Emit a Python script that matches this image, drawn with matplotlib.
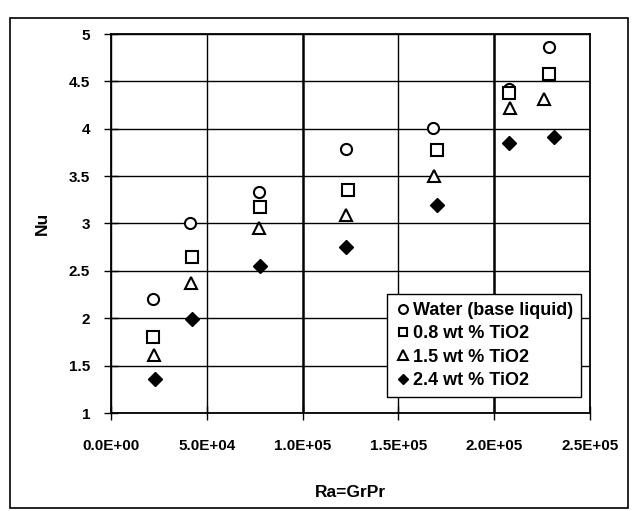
import matplotlib
matplotlib.use("Agg")
import matplotlib.pyplot as plt
from matplotlib.patches import Rectangle

plt.rcParams['font.family'] = ['Liberation Sans', 'DejaVu Sans']

series_names = ["Water (base liquid)", "0.8 wt % TiO2", "1.5 wt % TiO2", "2.4 wt % TiO2"]
x_water = [22000, 41200, 77000, 122600, 168000, 207600, 228600]
y_water = [2.20, 3.00, 3.33, 3.79, 4.01, 4.42, 4.86]
x_08 = [22000, 42200, 78000, 123600, 170000, 207600, 228600]
y_08 = [1.80, 2.65, 3.17, 3.35, 3.78, 4.38, 4.58]
x_15 = [22500, 41700, 77000, 122600, 168500, 208000, 226000]
y_15 = [1.61, 2.37, 2.95, 3.09, 3.50, 4.22, 4.31]
x_24 = [22800, 42200, 78000, 122600, 170000, 207600, 231000]
y_24 = [1.36, 1.99, 2.55, 2.75, 3.19, 3.85, 3.91]

x_ticks = [0, 50000, 100000, 150000, 200000, 250000]
x_tick_labels = ["0.0E+00", "5.0E+04", "1.0E+05", "1.5E+05", "2.0E+05", "2.5E+05"]
y_ticks = [1, 1.5, 2, 2.5, 3, 3.5, 4, 4.5, 5]
y_tick_labels = ["1", "1.5", "2", "2.5", "3", "3.5", "4", "4.5", "5"]

fig = plt.figure(figsize=(6.33, 5.11), dpi=100)
fig.patches.append(Rectangle((10/633, 1-508/511), 618/633, 490/511, transform=fig.transFigure,
                             fill=False, edgecolor='black', linewidth=1.2))
ax = fig.add_axes([111/633, 1-413/511, 479/633, 379/511])

ax.set_xlim(0, 250000)
ax.set_ylim(1, 5)
ax.set_xticks(x_ticks)
ax.set_xticklabels(x_tick_labels)
ax.set_yticks(y_ticks)
ax.set_yticklabels(y_tick_labels)
ax.grid(True, color='black', linewidth=1.0)
ax.set_axisbelow(True)
for i, gl in enumerate(ax.get_xgridlines()):
    if i in (2, 4):
        gl.set_linewidth(1.8)
for s in ax.spines.values():
    s.set_linewidth(1.3)
ax.tick_params(direction='inout', length=10, width=1.0, labelsize=11)
ax.tick_params(axis='y', pad=10)
ax.tick_params(axis='x', pad=14)
for lab in ax.get_xticklabels() + ax.get_yticklabels():
    lab.set_fontweight('bold')

ms = 8
ax.plot(x_water, y_water, 'o', ms=ms, mfc='white', mec='black', mew=1.5, label=series_names[0], linestyle='none')
ax.plot(x_08, y_08, 's', ms=ms, mfc='white', mec='black', mew=1.5, label=series_names[1], linestyle='none')
ax.plot(x_15, y_15, '^', ms=ms+1, mfc='white', mec='black', mew=1.5, label=series_names[2], linestyle='none')
ax.plot(x_24, y_24, 'D', ms=ms-1, mfc='black', mec='black', mew=1.0, label=series_names[3], linestyle='none')

ax.set_xlabel("Ra=GrPr", fontsize=12.5, fontweight='bold', labelpad=23)
ax.set_ylabel("Nu", fontsize=12.5, fontweight='bold', labelpad=14)

leg = ax.legend(loc='lower right', bbox_to_anchor=(0.981, 0.042), fontsize=13, frameon=True,
                fancybox=False, edgecolor='black', framealpha=1, handletextpad=0.15,
                handlelength=0.8, borderpad=0.45, labelspacing=0.35, borderaxespad=0,
                markerscale=0.8)
leg.get_frame().set_linewidth(1.0)
for t in leg.get_texts():
    t.set_fontweight('bold')

fig.savefig("out.png", dpi=100)
